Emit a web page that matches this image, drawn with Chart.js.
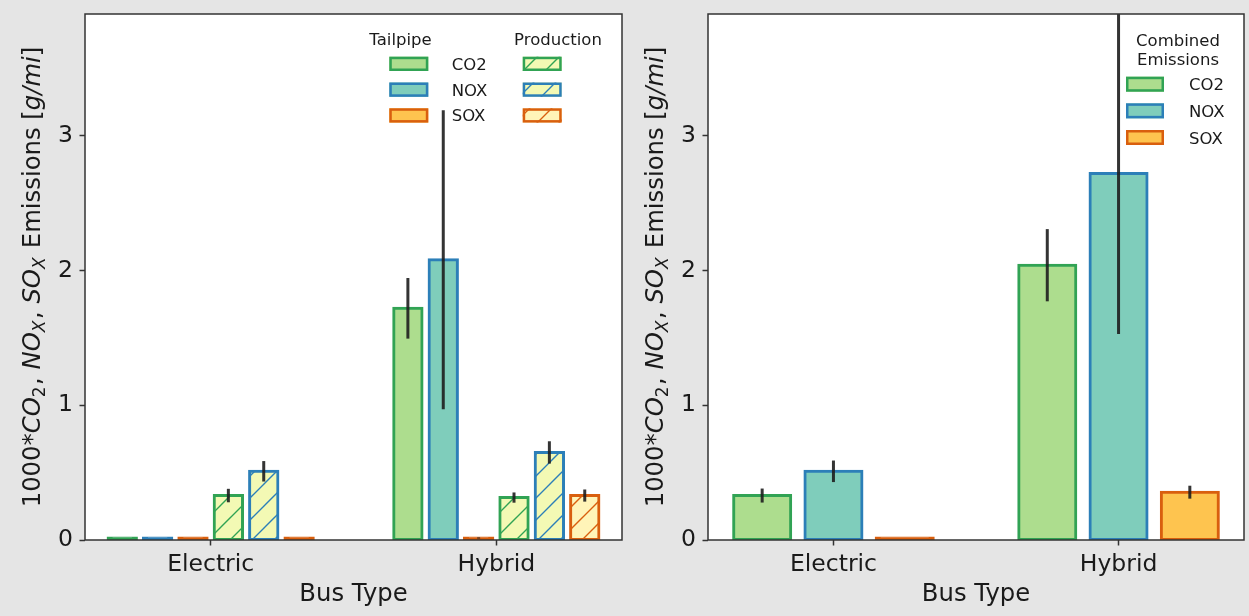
<!DOCTYPE html>
<html>
<head>
<meta charset="utf-8">
<script src="https://cdn.jsdelivr.net/npm/chart.js@4.4.1/dist/chart.umd.min.js"></script>
<style>
  html, body { margin: 0; padding: 0; background: #e5e5e5; }
  #wrap { position: relative; width: 1249px; height: 616px; background: #e5e5e5; overflow: hidden; }
  .pane { position: absolute; top: 0; height: 616px; }
</style>
</head>
<body>
<div id="wrap">
  <div class="pane" style="left:0;width:624px"><canvas id="c1" width="624" height="616"></canvas></div>
  <div class="pane" style="left:624px;width:625px"><canvas id="c2" width="625" height="616"></canvas></div>
</div>
<script>
// Categories and tick values
const busTypes = ['Electric', 'Hybrid'];
const pollutants = ['CO2', 'NOX', 'SOX'];
const yTicks = [0, 1, 2, 3];

// 1000 * emissions [g/mi], per bus type (Electric, Hybrid), with error half-widths
const tailpipeCO2 = [0, 1.72];
const tailpipeCO2Err = [0, 0.225];
const tailpipeNOX = [0, 2.08];
const tailpipeNOXErr = [0, 1.11];
const tailpipeSOX = [0, 0.015];
const tailpipeSOXErr = [0, 0.004];

const productionCO2 = [0.33, 0.315];
const productionCO2Err = [0.05, 0.038];
const productionNOX = [0.51, 0.65];
const productionNOXErr = [0.076, 0.083];
const productionSOX = [0, 0.33];
const productionSOXErr = [0, 0.045];

const combinedCO2 = [0.33, 2.04];
const combinedCO2Err = [0.052, 0.268];
const combinedNOX = [0.51, 2.72];
const combinedNOXErr = [0.08, 1.19];
const combinedSOX = [0, 0.355];
const combinedSOXErr = [0, 0.048];

// Styling
const FONT = "'DejaVu Sans', 'Liberation Sans', sans-serif";
const TEXT = '#1a1a1a';
const SPINE = '#333333';
const ERR = 'rgba(30,30,30,0.9)';
const CO2_FILL = '#addd8e', CO2_EDGE = '#31a354';
const NOX_FILL = '#7fcdbb', NOX_EDGE = '#2c7fb8';
const SOX_FILL = '#fec44f', SOX_EDGE = '#d95f0e';
const PROD_FILL = '#f3f9b4', PROD_FILL_SOX = '#fff4b8';

// Diagonal '/' hatch as a repeating canvas pattern
function hatch(ctx, fill, line) {
  const s = 22;
  const c = document.createElement('canvas');
  c.width = s; c.height = s;
  const g = c.getContext('2d');
  g.fillStyle = fill;
  g.fillRect(0, 0, s, s);
  g.strokeStyle = line;
  g.lineWidth = 1.4;
  g.beginPath();
  for (const k of [0, s, 2 * s]) { g.moveTo(-2, k + 2); g.lineTo(k + 2, -2); }
  g.stroke();
  return ctx.createPattern(c, 'repeat');
}

function toDataset(label, values, errors, fill, edge, catPct) {
  return {
    label,
    data: values.map((v, i) => ({ x: i, y: v })),
    errors,
    // a bar too thin to show its fill is just its outline
    backgroundColor: c => (c.raw && c.raw.y < 0.03 ? edge : fill),
    borderColor: edge,
    borderWidth: 3,
    borderSkipped: false,
    inflateAmount: 1.5,
    minBarLength: 2,
    categoryPercentage: catPct,
    barPercentage: 0.8,
    clip: 0
  };
}

// White plotting area
const plotBackground = {
  id: 'plotBackground',
  beforeDraw(chart) {
    const { ctx, chartArea: a } = chart;
    ctx.save();
    ctx.fillStyle = '#ffffff';
    ctx.fillRect(a.left, a.top, a.right - a.left, a.bottom - a.top);
    ctx.restore();
  }
};

// Vertical error bars and the axes frame
const errorBarsAndFrame = {
  id: 'errorBarsAndFrame',
  afterDatasetsDraw(chart) {
    const { ctx, chartArea: a } = chart;
    const y = chart.scales.y;
    ctx.save();
    ctx.beginPath();
    ctx.rect(a.left, a.top, a.right - a.left, a.bottom - a.top);
    ctx.clip();
    ctx.strokeStyle = ERR;
    ctx.lineWidth = 3;
    chart.data.datasets.forEach((ds, i) => {
      const meta = chart.getDatasetMeta(i);
      meta.data.forEach((bar, j) => {
        const v = ds.data[j].y, e = ds.errors[j];
        if (!e) return;
        ctx.beginPath();
        ctx.moveTo(bar.x, y.getPixelForValue(v - e));
        ctx.lineTo(bar.x, y.getPixelForValue(v + e));
        ctx.stroke();
      });
    });
    ctx.restore();
    ctx.save();
    ctx.strokeStyle = SPINE;
    ctx.lineWidth = 1.5;
    ctx.strokeRect(a.left, a.top, a.right - a.left, a.bottom - a.top);
    ctx.restore();
  }
};

// Rotated y-axis title with italic symbols and subscripts
const Y_TITLE = [
  ['1000*', 'normal', false], ['CO', 'italic', false], ['2', 'normal', true], [', ', 'normal', false],
  ['NO', 'italic', false], ['X', 'italic', true], [', ', 'normal', false],
  ['SO', 'italic', false], ['X', 'italic', true], [' Emissions [', 'normal', false],
  ['g/mi', 'italic', false], [']', 'normal', false]
];
const yTitle = {
  id: 'yTitle',
  afterDraw(chart) {
    const { ctx, chartArea: a } = chart;
    const size = 24.3, sub = 17;
    const fontOf = (style, isSub) => `${style} ${isSub ? sub : size}px ${FONT}`;
    ctx.save();
    let total = 0;
    const widths = Y_TITLE.map(([t, st, sb]) => { ctx.font = fontOf(st, sb); const w = ctx.measureText(t).width + (sb ? 1.5 : 0); total += w; return w; });
    ctx.translate(a.left - 45, (a.top + a.bottom) / 2);
    ctx.rotate(-Math.PI / 2);
    ctx.fillStyle = TEXT;
    ctx.textBaseline = 'alphabetic';
    let x = -total / 2;
    Y_TITLE.forEach(([t, st, sb], i) => {
      ctx.font = fontOf(st, sb);
      ctx.fillText(t, x, sb ? 4.5 : 0);
      x += widths[i];
    });
    ctx.restore();
  }
};

function drawPatch(ctx, x, y, w, h, fill, edge) {
  ctx.fillStyle = fill;
  ctx.fillRect(x, y, w, h);
  ctx.strokeStyle = edge;
  ctx.lineWidth = 2.5;
  ctx.strokeRect(x + 1.25, y + 1.25, w - 2.5, h - 2.5);
}

// Legend: column titles, colour patches per column, shared row labels
function makeLegend(spec) {
  return {
    id: 'emissionLegend',
    afterDraw(chart) {
      const { ctx, chartArea: a } = chart;
      ctx.save();
      ctx.font = `16.5px ${FONT}`;
      ctx.textBaseline = 'alphabetic';
      ctx.textAlign = 'center';
      ctx.fillStyle = TEXT;
      spec.titles.forEach(t => ctx.fillText(t.text, a.right + t.dx, a.top + t.dy));
      spec.rows.forEach((row, k) => {
        const top = a.top + spec.rowTop + spec.rowPitch * k;
        row.patches.forEach((p, c) => drawPatch(ctx, a.right + spec.patchDx[c], top, spec.patchW, spec.patchH, p.fill, p.edge));
        ctx.fillStyle = TEXT;
        ctx.textAlign = 'left';
        ctx.fillText(row.label, a.right + spec.labelDx, top + spec.patchH / 2 + 6);
      });
      ctx.restore();
    }
  };
}

function scalesConfig(yWidth) {
  const tickFont = { family: FONT, size: 23.5 };
  const titleFont = { family: FONT, size: 24.3 };
  return {
    x: {
      type: 'linear', min: -0.44, max: 1.44, offset: false,
      afterBuildTicks: s => { s.ticks = busTypes.map((_, i) => ({ value: i })); },
      afterFit: s => { s.height = 76; s.paddingLeft = 0; s.paddingRight = 0; },
      ticks: { autoSkip: false, maxRotation: 0, padding: 5, font: tickFont, color: TEXT, callback: v => busTypes[v] ?? '' },
      grid: { display: true, offset: false, drawOnChartArea: false, drawTicks: true, tickLength: 5.5, tickWidth: 1.5, tickColor: SPINE, color: SPINE },
      border: { display: false },
      title: { display: true, text: 'Bus Type', font: titleFont, color: TEXT, padding: { top: 0, bottom: 7 } }
    },
    y: {
      min: 0, max: 3.905,
      afterBuildTicks: s => { s.ticks = yTicks.map(v => ({ value: v })); },
      afterFit: s => { s.width = yWidth; s.paddingTop = 0; s.paddingBottom = 0; },
      ticks: { padding: 6.5, font: tickFont, color: TEXT },
      grid: { display: true, drawOnChartArea: false, drawTicks: true, tickLength: 5.5, tickWidth: 1.5, tickColor: SPINE, color: SPINE },
      border: { display: false }
    }
  };
}

// Left panel: tailpipe and production emissions
const ctx1 = document.getElementById('c1').getContext('2d');
const prodCO2Pat = hatch(ctx1, PROD_FILL, CO2_EDGE);
const prodNOXPat = hatch(ctx1, PROD_FILL, NOX_EDGE);
const prodSOXPat = hatch(ctx1, PROD_FILL_SOX, SOX_EDGE);

new Chart(ctx1, {
  type: 'bar',
  data: {
    datasets: [
      toDataset('Tailpipe CO2', tailpipeCO2, tailpipeCO2Err, CO2_FILL, CO2_EDGE, 0.743),
      toDataset('Tailpipe NOX', tailpipeNOX, tailpipeNOXErr, NOX_FILL, NOX_EDGE, 0.743),
      toDataset('Tailpipe SOX', tailpipeSOX, tailpipeSOXErr, SOX_FILL, SOX_EDGE, 0.743),
      toDataset('Production CO2', productionCO2, productionCO2Err, prodCO2Pat, CO2_EDGE, 0.743),
      toDataset('Production NOX', productionNOX, productionNOXErr, prodNOXPat, NOX_EDGE, 0.743),
      toDataset('Production SOX', productionSOX, productionSOXErr, prodSOXPat, SOX_EDGE, 0.743)
    ]
  },
  options: {
    responsive: false, animation: false,
    layout: { padding: { left: 0, top: 14, right: 2, bottom: 0 } },
    plugins: { legend: { display: false }, tooltip: { enabled: false } },
    scales: scalesConfig(85)
  },
  plugins: [plotBackground, errorBarsAndFrame, yTitle, makeLegend({
    titles: [{ text: 'Tailpipe', dx: -221.5, dy: 31.3 }, { text: 'Production', dx: -64, dy: 31.3 }],
    patchDx: [-232.7, -99.3], patchW: 39, patchH: 14.3,
    rowTop: 42.7, rowPitch: 25.8, labelDx: -170.3,
    rows: [
      { label: pollutants[0], patches: [{ fill: CO2_FILL, edge: CO2_EDGE }, { fill: prodCO2Pat, edge: CO2_EDGE }] },
      { label: pollutants[1], patches: [{ fill: NOX_FILL, edge: NOX_EDGE }, { fill: prodNOXPat, edge: NOX_EDGE }] },
      { label: pollutants[2], patches: [{ fill: SOX_FILL, edge: SOX_EDGE }, { fill: prodSOXPat, edge: SOX_EDGE }] }
    ]
  })]
});

// Right panel: combined emissions
const ctx2 = document.getElementById('c2').getContext('2d');
new Chart(ctx2, {
  type: 'bar',
  data: {
    datasets: [
      toDataset('CO2', combinedCO2, combinedCO2Err, CO2_FILL, CO2_EDGE, 0.75),
      toDataset('NOX', combinedNOX, combinedNOXErr, NOX_FILL, NOX_EDGE, 0.75),
      toDataset('SOX', combinedSOX, combinedSOXErr, SOX_FILL, SOX_EDGE, 0.75)
    ]
  },
  options: {
    responsive: false, animation: false,
    layout: { padding: { left: 0, top: 14, right: 5, bottom: 0 } },
    plugins: { legend: { display: false }, tooltip: { enabled: false } },
    scales: scalesConfig(84)
  },
  plugins: [plotBackground, errorBarsAndFrame, yTitle, makeLegend({
    titles: [{ text: 'Combined', dx: -66, dy: 31.5 }, { text: 'Emissions', dx: -66, dy: 51 }],
    patchDx: [-118], patchW: 38, patchH: 15,
    rowTop: 62.7, rowPitch: 26.65, labelDx: -55,
    rows: [
      { label: pollutants[0], patches: [{ fill: CO2_FILL, edge: CO2_EDGE }] },
      { label: pollutants[1], patches: [{ fill: NOX_FILL, edge: NOX_EDGE }] },
      { label: pollutants[2], patches: [{ fill: SOX_FILL, edge: SOX_EDGE }] }
    ]
  })]
});
</script>
</body>
</html>
